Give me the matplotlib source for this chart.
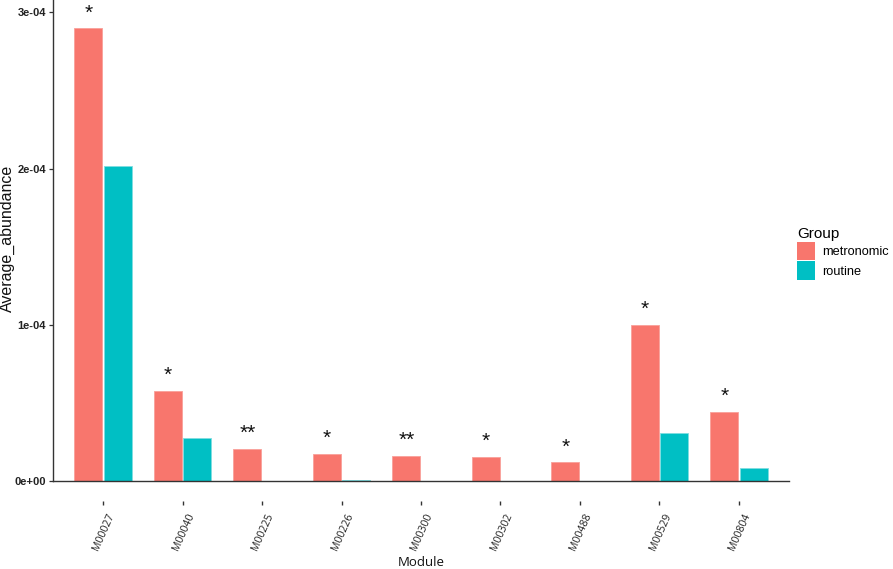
import matplotlib
matplotlib.use("Agg")
import matplotlib.pyplot as plt
import matplotlib.transforms as mtransforms
from matplotlib.patches import Patch
import numpy as np

# values
modules = ["M00027", "M00040", "M00225", "M00226", "M00300",
           "M00302", "M00488", "M00529", "M00804"]
metronomic = [2.90e-4, 0.577e-4, 0.205e-4, 0.173e-4, 0.160e-4,
              0.156e-4, 0.120e-4, 1.00e-4, 0.445e-4]
routine = [2.02e-4, 0.276e-4, 0.001e-4, 0.008e-4, 0.002e-4,
           0.002e-4, 0.002e-4, 0.31e-4, 0.085e-4]
stars = ["*", "*", "**", "*", "**", "*", "*", "*", "*"]
y_ticks = [0, 1e-4, 2e-4, 3e-4]
y_tick_labels = ["0e+00", "1e-04", "2e-04", "3e-04"]
groups = ["metronomic", "routine"]
colors = ["#F8766D", "#00BFC4"]

W, H = 893, 569
fig = plt.figure(figsize=(W / 100, H / 100), dpi=100)
ax = fig.add_axes([53 / W, (H - 481) / H, (789 - 53) / W, 481 / H])

x = np.arange(1, len(modules) + 1)
bw = 0.35
off = 0.185
ax.bar(x - off, metronomic, width=bw, color=colors[0], edgecolor="#F9A09A", linewidth=0.6)
ax.bar(x + off, routine, width=bw, color=colors[1], edgecolor="#7FDDE0", linewidth=0.6)

ax.set_xlim(0.37, len(modules) + 0.63)
ax.set_ylim(0, 3.08e-4)

# significance stars over the metronomic bars
for xi, v, s in zip(x, metronomic, stars):
    t = mtransforms.offset_copy(ax.transData, fig=fig, y=7, units="points")
    ax.text(xi - off, v, s, transform=t, ha="center", va="baseline",
            fontsize=15, family="Liberation Sans", color="#111111")

# axes styling (ggplot classic look)
for side in ["top", "right"]:
    ax.spines[side].set_visible(False)
for side in ["left", "bottom"]:
    ax.spines[side].set_color("#333333")
    ax.spines[side].set_linewidth(1.0)

ax.set_yticks(y_ticks)
ax.set_yticklabels(y_tick_labels, fontsize=8, fontweight="bold",
                   family="Liberation Sans", color="#222222")
ax.tick_params(axis="y", length=3, width=0.9, color="#333333", pad=2)

ax.set_xticks([])
blend = mtransforms.blended_transform_factory(ax.transData, ax.transAxes)
tick_t = mtransforms.offset_copy(blend, fig=fig, y=-22, units="dots")
label_t = mtransforms.offset_copy(blend, fig=fig, x=9, y=-33, units="dots")
for xi, name in zip(x, modules):
    ax.plot([xi], [0], marker="|", markersize=3, color="#333333",
            transform=tick_t, clip_on=False)
    ax.text(xi, 0, name, transform=label_t, rotation=66, rotation_mode="anchor",
            ha="right", va="center", fontsize=7.6, family="Open Sans", color="#222222")

fig.text(421 / W, (H - 562) / H, "Module", ha="center", va="center",
         fontsize=9.5, family="Open Sans", color="#111111")
fig.text(7 / W, (H - 238) / H, "Average_abundance", rotation=90,
         ha="center", va="center", fontsize=11.5, family="Liberation Sans", color="#111111")

handles = [Patch(facecolor=c, edgecolor="none") for c in colors]
leg = fig.legend(handles, groups, loc="upper left", bbox_to_anchor=(788 / W, (H - 218) / H),
                 frameon=False, title="Group",
                 title_fontproperties={"family": "Liberation Sans", "size": 11},
                 prop={"family": "Liberation Sans", "size": 9.2},
                 handlelength=1.45, handleheight=1.9, handletextpad=0.55,
                 labelspacing=0.05, borderpad=0.2)
leg._legend_box.align = "left"

fig.savefig("out.png", dpi=100)
